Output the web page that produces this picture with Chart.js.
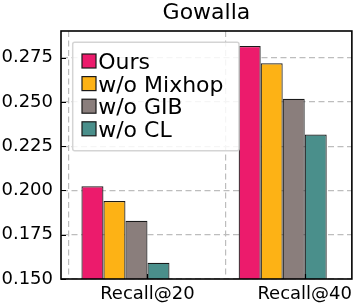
<!DOCTYPE html>
<html>
<head>
<meta charset="utf-8">
<script src="https://cdn.jsdelivr.net/npm/chart.js@4/dist/chart.umd.min.js"></script>
<style>
  html, body { margin: 0; padding: 0; background: #fff; }
  #wrap { width: 358px; height: 308px; }
</style>
</head>
<body>
<div id="wrap"><canvas id="chartContainer" width="358" height="308"></canvas></div>
<script>
// values
var groups = ["Recall@20", "Recall@40"];
var variants = ["Ours", "w/o Mixhop", "w/o GIB", "w/o CL"];
var ours = [0.2024, 0.2815];
var no_mixhop = [0.1940, 0.2718];
var no_gib = [0.1829, 0.2517];
var no_cl = [0.1592, 0.2316];
var y_ticks = [0.150, 0.175, 0.200, 0.225, 0.250, 0.275];

var colors = ["#EC1B6C", "#FDB215", "#8A7E7C", "#4A8F8B"];
var series = [ours, no_mixhop, no_gib, no_cl];

// each group sits at x = 0, 1; two empty slots on the right shift the bars like the figure
var datasets = series.map(function(vals, i) {
    return {
        label: variants[i],
        data: vals.map(function(v, j) { return { x: j, y: v }; }),
        backgroundColor: colors[i],
        borderColor: "#1a1a1a",
        borderWidth: 1.2,
        barPercentage: 1,
        categoryPercentage: 0.84,
    };
});
for (var k = 0; k < 2; k++) {
    datasets.push({
        label: "",
        data: groups.map(function(g, j) { return { x: j, y: null }; }),
        barPercentage: 1,
        categoryPercentage: 0.84,
    });
}

var framePlugin = {
    id: "frame",
    afterDatasetsDraw: function(chart) {
        var ctx = chart.ctx;
        var a = chart.chartArea;
        var ys = chart.scales.y, xs = chart.scales.x;
        ctx.save();
        // inward ticks
        ctx.strokeStyle = "#000";
        ctx.lineWidth = 1.2;
        ctx.beginPath();
        y_ticks.forEach(function(t) {
            var py = Math.round(ys.getPixelForValue(t)) + 0.5;
            ctx.moveTo(a.left, py);
            ctx.lineTo(a.left + 5, py);
        });
        groups.forEach(function(g, j) {
            var px = Math.round(xs.getPixelForValue(j)) + 0.5;
            ctx.moveTo(px, a.bottom);
            ctx.lineTo(px, a.bottom - 5);
        });
        ctx.stroke();
        // spines
        ctx.lineWidth = 1.6;
        ctx.strokeRect(a.left, a.top, a.right - a.left, a.bottom - a.top);

        // legend box inside the axes
        var lx = a.left + 11.7, ly = a.top + 11.3, lw = 166.3, lh = 108.4;
        ctx.fillStyle = "rgba(255,255,255,0.85)";
        ctx.strokeStyle = "#d4d4d4";
        ctx.lineWidth = 1.5;
        ctx.beginPath();
        if (ctx.roundRect) ctx.roundRect(lx, ly, lw, lh, 2); else ctx.rect(lx, ly, lw, lh);
        ctx.fill();
        ctx.stroke();
        ctx.font = "22px 'DejaVu Sans'";
        ctx.textBaseline = "alphabetic";
        ctx.textAlign = "left";
        for (var i = 0; i < variants.length; i++) {
            var sy = ly + 11.7 + i * 22.6;
            ctx.fillStyle = colors[i];
            ctx.fillRect(lx + 9.3, sy, 14, 14);
            ctx.strokeStyle = "#1a1a1a";
            ctx.lineWidth = 1.2;
            ctx.strokeRect(lx + 9.3, sy, 14, 14);
            ctx.fillStyle = "#000";
            ctx.fillText(variants[i], lx + 25.5, sy + 15);
        }
        ctx.restore();
    }
};

var gridDash = {
    display: true,
    color: "#bdbdbd",
    lineWidth: 1.2,
    drawTicks: false,
    borderDash: [6, 3.5],
};
var noBorder = { display: true, color: "rgba(0,0,0,0)", width: 1, dash: [6, 3.5] };

var cfg = {
    type: "bar",
    data: { datasets: datasets },
    options: {
        responsive: false,
        animation: false,
        layout: { padding: { left: 0, right: 4, top: 0, bottom: 0 } },
        plugins: {
            legend: { display: false },
            tooltip: { enabled: false },
            title: {
                display: true,
                text: "Gowalla",
                fullSize: false,
                color: "#000",
                font: { family: "DejaVu Sans", size: 22, weight: "normal", lineHeight: 1.2 },
                padding: { top: 0, bottom: 4.6 },
            }
        },
        scales: {
            x: {
                type: "linear",
                offset: false,
                min: -0.55,
                max: 1.30,
                grid: gridDash,
                border: noBorder,
                afterBuildTicks: function(axis) {
                    axis.ticks = groups.map(function(g, j) { return { value: j }; });
                },
                afterFit: function(axis) { axis.height = 29; },
                ticks: {
                    color: "#000",
                    padding: 5,
                    maxRotation: 0,
                    autoSkip: false,
                    font: { family: "DejaVu Sans", size: 18 },
                    callback: function(v) { return groups[v]; }
                }
            },
            y: {
                min: 0.15,
                max: 0.29,
                grid: gridDash,
                border: noBorder,
                afterBuildTicks: function(axis) {
                    axis.ticks = y_ticks.map(function(t) { return { value: t }; });
                },
                afterFit: function(axis) { axis.width = 61; },
                ticks: {
                    color: "#000",
                    padding: 8,
                    font: { family: "DejaVu Sans", size: 18 },
                    callback: function(v) { return v.toFixed(3); }
                }
            }
        }
    },
    plugins: [framePlugin]
};

var cashless = document.getElementById("chartContainer").getContext("2d");
var chart = new Chart(cashless, cfg);
</script>
</body>
</html>
